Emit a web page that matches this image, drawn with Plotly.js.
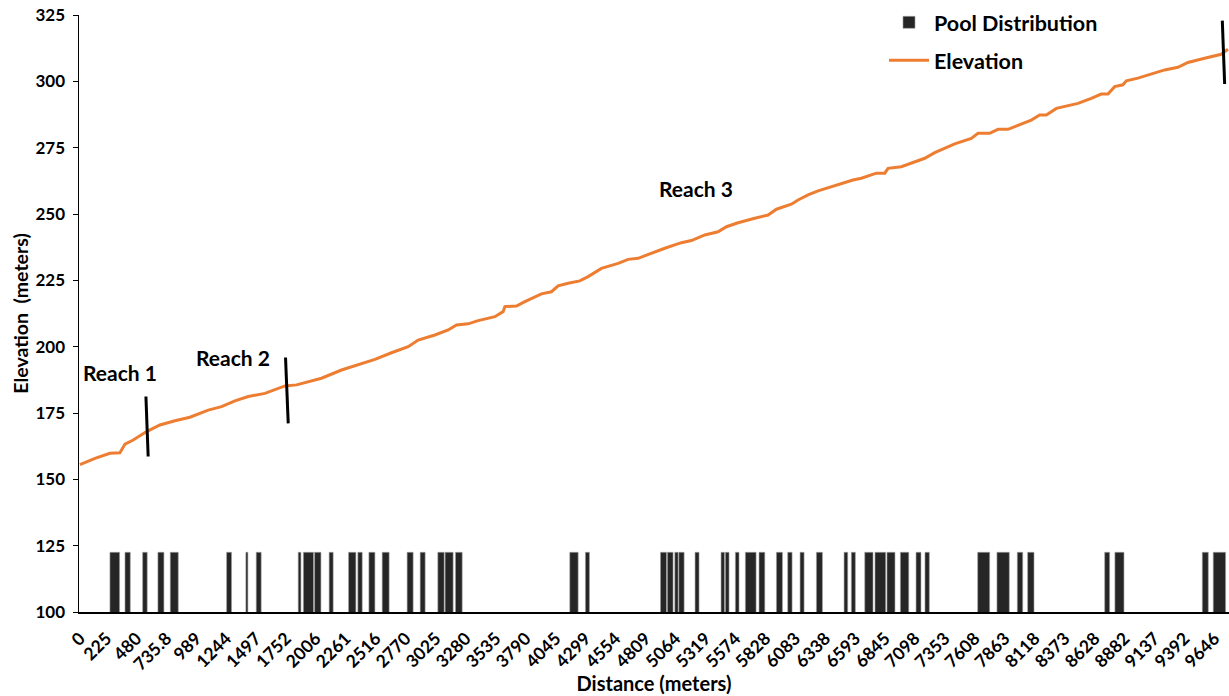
<!DOCTYPE html>
<html>
<head>
<meta charset="utf-8">
<script src="https://cdn.plot.ly/plotly-3.0.1.min.js"></script>
<style>html,body{margin:0;padding:0;background:#fff;}#chart{width:1229px;height:696px;}</style>
</head>
<body>
<div id="chart"></div>
<script>
// Tick labels on the distance axis (meters)
const tickLabels = ["0","225","480","735.8","989","1244","1497","1752","2006","2261","2516","2770","3025","3280","3535","3790","4045","4299","4554","4809","5064","5319","5574","5828","6083","6338","6593","6845","7098","7353","7608","7863","8118","8373","8628","8882","9137","9392","9646"];
const tickValues = [0,225,480,735.8,989,1244,1497,1752,2006,2261,2516,2770,3025,3280,3535,3790,4045,4299,4554,4809,5064,5319,5574,5828,6083,6338,6593,6845,7098,7353,7608,7863,8118,8373,8628,8882,9137,9392,9646];

// Elevation profile (distance m, elevation m)
const elevDist = [0,128,255,340,383,453,567,680,808,935,1091,1204,1318,1431,1573,1743,1842,1941,2054,2224,2366,2508,2649,2791,2876,3018,3131,3202,3301,3386,3528,3598,3613,3712,3783,3924,4009,4066,4151,4250,4321,4434,4576,4661,4746,4888,4973,5114,5199,5313,5426,5497,5596,5738,5851,5922,6049,6106,6191,6276,6389,6474,6573,6644,6772,6843,6871,6984,7098,7183,7268,7438,7579,7636,7735,7806,7891,8004,8089,8160,8217,8302,8401,8486,8599,8684,8741,8798,8868,8897,8996,9109,9223,9336,9421,9563,9704,9761];
const elevValue = [155.5,157.9,159.8,160.0,163.3,164.8,168.0,170.5,172.1,173.4,176.1,177.4,179.6,181.2,182.4,185.2,185.6,186.8,188.1,191.2,193.1,195.2,197.7,200.0,202.5,204.4,206.3,208.2,208.6,209.8,211.3,213.2,215.1,215.3,217.0,219.9,220.7,222.9,223.9,224.8,226.4,229.5,231.4,232.9,233.3,235.8,237.1,239.2,240.0,242.1,243.3,245.2,246.7,248.4,249.6,251.8,253.7,255.3,257.2,258.7,260.3,261.6,262.8,263.5,265.4,265.4,267.2,267.8,269.7,271.0,273.1,276.4,278.5,280.4,280.4,281.9,281.9,283.9,285.4,287.3,287.3,289.8,290.7,291.7,293.6,295.2,295.2,298.0,298.7,300.2,301.2,302.8,304.3,305.3,307.1,308.7,310.2,312.1];

// Pool distribution: start and end distance of each pool (m) and bar top
const poolStart = [255,383,533,663,768,1247,1411,1499,1856,1900,1995,2119,2284,2363,2457,2570,2782,2893,3043,3105,3193,4165,4298,4936,4995,5058,5092,5230,5451,5488,5573,5658,5774,5922,6018,6123,6262,6497,6559,6673,6760,6862,6976,7109,7185,7633,7797,7970,8058,8713,8800,9543,9636];
const poolEnd   = [337,428,572,714,836,1289,1428,1541,1879,1986,2049,2153,2346,2400,2508,2629,2833,2935,3097,3173,3250,4236,4332,4987,5043,5086,5137,5264,5480,5519,5604,5749,5823,5973,6055,6157,6313,6528,6593,6743,6851,6930,7047,7151,7222,7735,7902,8016,8112,8755,8877,9594,9741];
const poolTop   = [122.5,122.5,122.5,122.5,122.5,122.5,122.5,122.5,122.5,122.5,122.5,122.5,122.5,122.5,122.5,122.5,122.5,122.5,122.5,122.5,122.5,122.5,122.5,122.5,122.5,122.5,122.5,122.5,122.5,122.5,122.5,122.5,122.5,122.5,122.5,122.5,122.5,122.5,122.5,122.5,122.5,122.5,122.5,122.5,122.5,122.5,122.5,122.5,122.5,122.5,122.5,122.5,122.5];

// Reach boundary markers (segments)
const reachX = [561,580,null,1748,1771,null,9713,9733];
const reachY = [181.2,158.6,null,195.9,171.1,null,322.9,299.0];

// Reach labels
const reachLabels = ["Reach 1","Reach 2","Reach 3"];
const reachLabelX = [340,1303,5242];
const reachLabelY = [190.2,196.0,259.7];

const FONT = "Lato, 'Open Sans', sans-serif";

const poolCenter = poolStart.map((s,i)=> (s+poolEnd[i])/2);
const poolWidth = poolStart.map((s,i)=> poolEnd[i]-s);

const traces = [
  {
    type: 'bar', name: 'Pool Distribution',
    x: poolCenter, y: poolTop, width: poolWidth,
    marker: {color: '#262626', line: {color: '#a0a0a0', width: 0.6}},
    legendgroup: 'a', hoverinfo: 'skip'
  },
  {
    type: 'scatter', mode: 'lines', name: 'Elevation',
    x: elevDist, y: elevValue,
    line: {color: '#ED7D31', width: 3},
    legendgroup: 'b'
  },
  {
    type: 'scatter', mode: 'lines', x: reachX, y: reachY,
    line: {color: '#000000', width: 3}, showlegend: false, hoverinfo: 'skip'
  }
];

const annotations = reachLabels.map((t,i)=>({
  text: t, x: reachLabelX[i], y: reachLabelY[i], xref: 'x', yref: 'y',
  showarrow: false, font: {family: FONT, size: 21, weight: 'bold', color: '#000'}
}));

const layout = {
  width: 1229, height: 696,
  margin: {l: 79, r: 0, t: 15, b: 84, pad: 0},
  paper_bgcolor: '#fff', plot_bgcolor: '#fff',
  bargap: 0,
  showlegend: true,
  legend: {
    x: 0.700, y: 1.022, xanchor: 'left', yanchor: 'top',
    font: {family: FONT, size: 21.5, weight: 'bold', color: '#000'},
    bgcolor: 'rgba(0,0,0,0)', tracegroupgap: 7, traceorder: 'grouped',
    itemwidth: 40
  },
  xaxis: {
    type: 'linear', range: [-8, 9770],
    tickmode: 'array', tickvals: tickValues, ticktext: tickLabels,
    tickangle: -45, ticks: '', showgrid: false, zeroline: false,
    showline: true, linecolor: '#000', linewidth: 1.5,
    ticklabelstandoff: 8,
    tickfont: {family: FONT, size: 17.5, weight: 'bold', color: '#000'},
    title: {text: 'Distance (meters)', font: {family: FONT, size: 20, weight: 'bold', color: '#000'}, standoff: 2}
  },
  yaxis: {
    range: [100, 325], dtick: 25, tick0: 100,
    ticks: 'outside', ticklen: 5, tickcolor: '#000',
    showgrid: false, zeroline: false,
    showline: true, linecolor: '#000', linewidth: 1.5,
    ticklabelstandoff: 4,
    tickfont: {family: FONT, size: 17, weight: 'bold', color: '#000'},
    title: {text: 'Elevation\u00A0\u00A0(meters)', font: {family: FONT, size: 19.5, weight: 'bold', color: '#000'}, standoff: 1}
  },
  annotations: annotations
};

Plotly.newPlot('chart', traces, layout, {displayModeBar: false, staticPlot: true});
</script>
</body>
</html>
